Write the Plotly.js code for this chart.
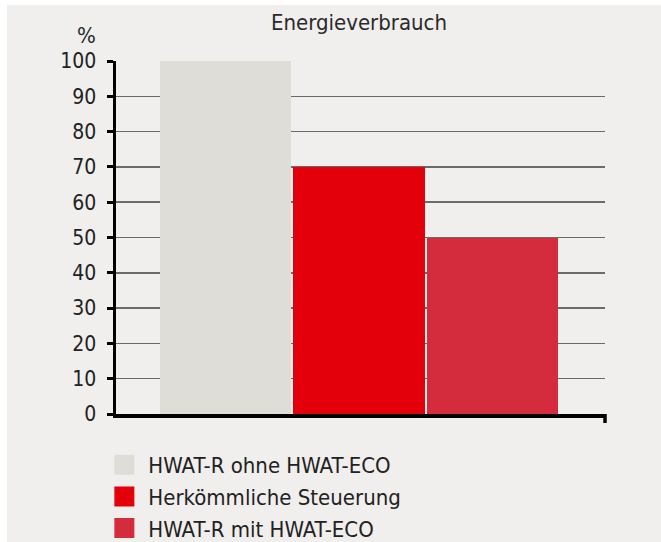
<!DOCTYPE html>
<html>
<head>
<meta charset="utf-8">
<script src="https://cdn.plot.ly/plotly-3.0.1.min.js"></script>
<style>
html,body{margin:0;padding:0;background:#ffffff;}
#chart{position:absolute;left:7px;top:5px;width:654px;height:537px;}
</style>
</head>
<body>
<div id="chart"></div>
<script>
const categories = ["HWAT-R ohne HWAT-ECO", "Herkömmliche Steuerung", "HWAT-R mit HWAT-ECO"];
const values = [100, 70, 50];
const barColors = ["#dfddd7", "#e3000b", "#d42b3d"];
const yTicks = [0, 10, 20, 30, 40, 50, 60, 70, 80, 90, 100];
const chartTitle = "Energieverbrauch";
const unitLabel = "%";

const FONT = "'DejaVu Sans Condensed', 'Liberation Sans Narrow', 'Arial Narrow', sans-serif";

const traces = [{
  type: "bar",
  x: categories,
  y: values,
  width: 0.985,
  marker: {color: barColors, line: {width: 0}},
  showlegend: false,
  hoverinfo: "skip"
}];
categories.forEach((c, i) => {
  traces.push({
    type: "scatter",
    mode: "markers",
    x: [null],
    y: [null],
    name: c,
    marker: {symbol: "square", size: 16, color: barColors[i], line: {width: 4, color: barColors[i]}},
    showlegend: true
  });
});

const layout = {
  width: 654,
  height: 537,
  paper_bgcolor: "#f0efed",
  plot_bgcolor: "#f0efed",
  margin: {l: 109, r: 56, t: 56, b: 128, autoexpand: false},
  font: {family: FONT, color: "#222222", size: 21},
  title: {
    text: chartTitle,
    font: {family: FONT, size: 22, color: "#2a2a2a"},
    x: (359 - 7) / 654, xanchor: "center", xref: "container",
    y: 1 - 17 / 537, yanchor: "middle", yref: "container"
  },
  xaxis: {
    type: "category",
    range: [-0.822, 2.843],
    showticklabels: false,
    ticks: "",
    showgrid: false,
    zeroline: false,
    showline: true,
    linecolor: "#000000",
    linewidth: 3.5,
    fixedrange: true
  },
  yaxis: {
    range: [0, 100],
    tickvals: yTicks,
    ticktext: yTicks.map(String),
    ticks: "outside",
    ticklen: 6,
    tickwidth: 3,
    tickcolor: "#000000",
    ticklabelstandoff: 6,
    showline: true,
    linecolor: "#000000",
    linewidth: 3.5,
    showgrid: true,
    gridcolor: "#6b6b6b",
    gridwidth: 1.5,
    zeroline: false,
    tickfont: {family: FONT, size: 21, color: "#222222"},
    fixedrange: true
  },
  showlegend: true,
  legend: {
    x: -0.032, xanchor: "left", xref: "paper",
    y: -0.085, yanchor: "top", yref: "paper",
    bgcolor: "rgba(0,0,0,0)",
    font: {family: FONT, size: 22, color: "#222222"},
    itemsizing: "trace",
    itemwidth: 38,
    tracegroupgap: 0
  },
  annotations: [{
    text: unitLabel,
    xref: "paper", yref: "paper",
    x: (86 - 116) / 489, y: (414 - 35) / 353,
    xanchor: "center", yanchor: "middle",
    showarrow: false,
    font: {family: FONT, size: 22, color: "#2a2a2a"}
  }],
  shapes: [{
    type: "line",
    xref: "paper", yref: "paper",
    x0: 1, x1: 1, y0: 0, y1: -9 / 353,
    line: {color: "#000000", width: 3.5}
  }],
  bargap: 0
};

Plotly.newPlot("chart", traces, layout, {displayModeBar: false, staticPlot: true});
</script>
</body>
</html>
